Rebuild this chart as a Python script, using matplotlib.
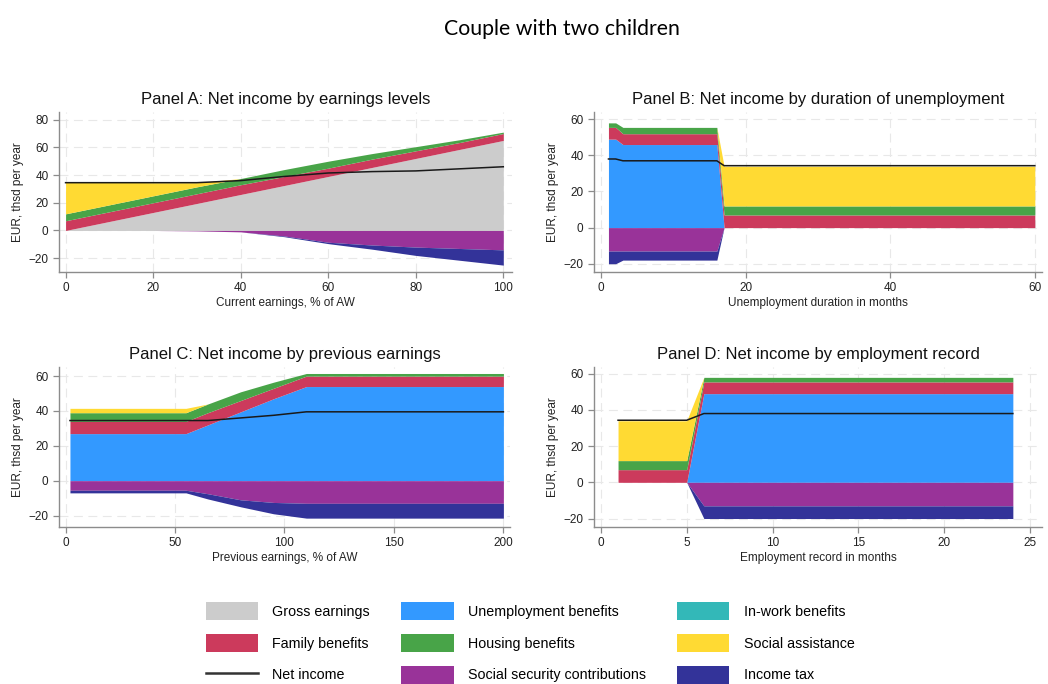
import numpy as np
import matplotlib.pyplot as plt
from matplotlib.patches import Patch
from matplotlib.lines import Line2D

plt.rcParams['font.family'] = ['Liberation Sans', 'DejaVu Sans']

# ---- data (EUR thousand per year) ----
# Panel A: current earnings, % of AW
a_x = [0, 10, 20, 30, 40, 50, 60, 70, 80, 90, 100]
a_gross = [0, 6.5, 13, 19.5, 26, 32.5, 39, 45.5, 52, 58.5, 65]
a_unemp = [0, 0, 0, 0, 0, 0, 0, 0, 0, 0, 0]
a_family = [7, 7, 7, 7, 7, 6.5, 6, 6, 5.5, 5, 5]
a_housing = [5, 5, 5, 5, 4.5, 5, 5, 4, 3, 2, 1]
a_social = [23, 16.5, 9.5, 3, 0, 0, 0, 0, 0, 0, 0]
a_ssc = [0, 0, 0, -0.3, -1, -4, -8.5, -10.5, -12, -13, -14]
a_tax = [0, 0, 0, 0, 0, -0.5, -1, -3, -6, -8.5, -11]
a_net = [34.5, 34.5, 34.5, 34.5, 36, 39, 41.5, 42.5, 43, 44.5, 46]

# Panel B: unemployment duration in months
b_x = [1, 2, 3, 16, 17, 60]
b_gross = [0, 0, 0, 0, 0, 0]
b_unemp = [49, 49, 46, 46, 0, 0]
b_family = [6.5, 6.5, 6, 6, 7, 7]
b_housing = [2.5, 2.5, 3.5, 3.5, 5, 5]
b_social = [0, 0, 0, 0, 22, 22]
b_ssc = [-13, -13, -13, -13, 0, 0]
b_tax = [-7, -7, -5, -5, 0, 0]
b_net = [38, 38, 37, 37, 34.3, 34.3]

# Panel C: previous earnings, % of AW
c_x = [2, 55, 65, 80, 95, 110, 200]
c_gross = [0, 0, 0, 0, 0, 0, 0]
c_unemp = [27, 27, 32, 39.5, 47, 54, 54]
c_family = [7, 7, 7, 6.5, 6, 6, 6]
c_housing = [5, 5, 5, 5, 3.5, 1.5, 1.5]
c_social = [2.5, 2.5, 0, 0, 0, 0, 0]
c_ssc = [-5.5, -5.5, -7.5, -11, -12.5, -13, -13]
c_tax = [-1.5, -1.5, -3, -4, -6.5, -8.5, -8.5]
c_net = [34.5, 34.5, 34.5, 36, 37.5, 39.5, 39.5]

# Panel D: employment record in months
d_x = [1, 5, 6, 24]
d_gross = [0, 0, 0, 0]
d_unemp = [0, 0, 49, 49]
d_family = [7, 7, 6.5, 6.5]
d_housing = [5, 5, 2.5, 2.5]
d_social = [22, 22, 0, 0]
d_ssc = [0, 0, -13, -13]
d_tax = [0, 0, -7, -7]
d_net = [34.3, 34.3, 38, 38]

colors = {
    'Gross earnings': '#cccccc',
    'Unemployment benefits': '#3399ff',
    'In-work benefits': '#33b8b8',
    'Family benefits': '#cc3a5c',
    'Housing benefits': '#48a448',
    'Social assistance': '#ffda33',
    'Social security contributions': '#993399',
    'Income tax': '#333399',
}

panels = [
    ("Panel A: Net income by earnings levels", "Current earnings, % of AW",
     a_x, [a_gross, a_unemp, a_family, a_housing, a_social], a_ssc, a_tax, a_net,
     [0, 20, 40, 60, 80, 100], [-20, 0, 20, 40, 60, 80], (-1.5, 102), (-30, 85.5),
     [0.0563, 0.6023, 0.4323, 0.2339]),
    ("Panel B: Net income by duration of unemployment", "Unemployment duration in months",
     b_x, [b_gross, b_unemp, b_family, b_housing, b_social], b_ssc, b_tax, b_net,
     [0, 20, 40, 60], [-20, 0, 20, 40, 60], (-1, 61), (-24.6, 64),
     [0.5668, 0.6023, 0.4275, 0.2339]),
    ("Panel C: Net income by previous earnings", "Previous earnings, % of AW",
     c_x, [c_gross, c_unemp, c_family, c_housing, c_social], c_ssc, c_tax, c_net,
     [0, 50, 100, 150, 200], [-20, 0, 20, 40, 60], (-3, 203), (-26.6, 65.2),
     [0.0563, 0.2295, 0.4303, 0.2339]),
    ("Panel D: Net income by employment record", "Employment record in months",
     d_x, [d_gross, d_unemp, d_family, d_housing, d_social], d_ssc, d_tax, d_net,
     [0, 5, 10, 15, 20, 25], [-20, 0, 20, 40, 60], (-0.4, 25.7), (-24.7, 63.7),
     [0.5668, 0.2295, 0.4275, 0.2339]),
]

pos_names = ['Gross earnings', 'Unemployment benefits', 'Family benefits',
             'Housing benefits', 'Social assistance']

fig = plt.figure(figsize=(10.48, 6.84), dpi=100)
fig.text(0.536, 0.958, "Couple with two children", ha='center', va='center',
         fontsize=15.3, family=['Lato', 'DejaVu Sans'])

for title, xlabel, x, pos, ssc, tax, net, xt, yt, xl, yl, rect in panels:
    ax = fig.add_axes(rect)
    x = np.array(x, dtype=float)
    base = np.zeros_like(x)
    for name, vals in zip(pos_names, pos):
        top = base + np.array(vals)
        ax.fill_between(x, base, top, color=colors[name], lw=0, zorder=2)
        base = top
    ssc = np.array(ssc)
    tax = np.array(tax)
    ax.fill_between(x, 0, ssc, color=colors['Social security contributions'], lw=0, zorder=2)
    ax.fill_between(x, ssc, ssc + tax, color=colors['Income tax'], lw=0, zorder=2)
    ax.plot(x, net, color='#1a1a1a', lw=1.1, zorder=3)

    ax.set_xticks(xt)
    ax.set_yticks(yt)
    ax.set_xlim(*xl)
    ax.set_ylim(*yl)
    ax.grid(True, color='#e8e8e8', lw=0.8, ls=(0, (8, 5)), zorder=0)
    for s in ['top', 'right']:
        ax.spines[s].set_visible(False)
    for s in ['left', 'bottom']:
        ax.spines[s].set_color('#8c8c8c')
        ax.spines[s].set_linewidth(1.0)
    ax.tick_params(colors='#8c8c8c', labelcolor='#222222', labelsize=8.5,
                   length=4, width=0.9)
    ax.set_title(title, fontsize=12, color='#111111', pad=6)
    ax.set_xlabel(xlabel, fontsize=8.5, color='#222222', labelpad=2)
    ax.set_ylabel("EUR, thsd per year", fontsize=8.5, color='#222222', labelpad=3)

legend_names = ['Gross earnings', 'Family benefits', 'Net income',
                'Unemployment benefits', 'Housing benefits', 'Social security contributions',
                'In-work benefits', 'Social assistance', 'Income tax']
handles = []
for name in legend_names:
    if name == 'Net income':
        handles.append(Line2D([], [], color='#333333', lw=1.8))
    else:
        handles.append(Patch(facecolor=colors[name], edgecolor='none'))

fig.legend(handles, legend_names, ncol=3, loc='center', bbox_to_anchor=(0.506, 0.06),
           frameon=False, fontsize=10.3, handlelength=3.64, handleheight=1.54,
           handletextpad=1.0, columnspacing=2.2, labelspacing=0.97)

fig.savefig('out.png', dpi=100)
